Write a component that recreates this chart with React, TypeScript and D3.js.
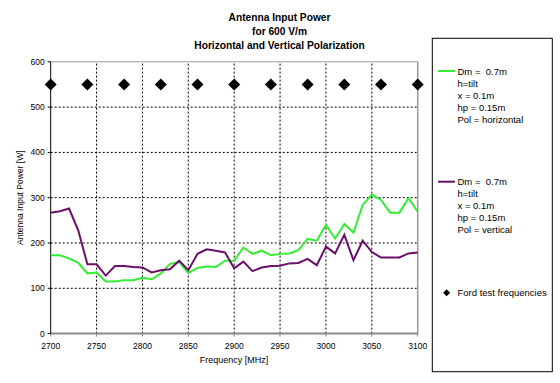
import React from "react";
import * as d3 from "d3";

const freqs = [2700,2710,2720,2730,2740,2750,2760,2770,2780,2790,2800,2810,2820,2830,2840,2850,2860,2870,2880,2890,2900,2910,2920,2930,2940,2950,2960,2970,2980,2990,3000,3010,3020,3030,3040,3050,3060,3070,3080,3090,3100];
const horizontal = [173,173,166,156,133,135,115,115,118,118,123,120,133,154,158,134,145,148,147,161,161,190,176,183,173,176,177,184,209,205,240,210,242,223,284,307,295,267,267,299,269];
const vertical = [267,270,276,228,153,153,128,149,149,147,146,135,140,142,161,140,176,186,183,179,144,159,138,146,149,150,155,156,165,151,192,177,218,162,205,180,168,168,168,177,179];
const fordFreqs = [2700,2740,2780,2820,2860,2900,2940,2980,3020,3060,3100];
const fordLevel = 550;
const xTicks = [2700,2750,2800,2850,2900,2950,3000,3050,3100];
const yTicks = [0,100,200,300,400,500,600];
const legendLines1 = ["Dm =  0.7m","h=tilt","x = 0.1m","hp = 0.15m","Pol = horizontal"];
const legendLines2 = ["Dm =  0.7m","h=tilt","x = 0.1m","hp = 0.15m","Pol = vertical"];

const GREEN = "#33ee33";
const PURPLE = "#6b0f6b";

export default function App() {
  const x = d3.scaleLinear().domain([2700, 3100]).range([50.7, 417.7]);
  const y = d3.scaleLinear().domain([0, 600]).range([333.6, 61.8]);
  const line = d3.line<[number, number]>().x(d => x(d[0])).y(d => y(d[1]));
  const hData = freqs.map((f, i) => [f, horizontal[i]] as [number, number]);
  const vData = freqs.map((f, i) => [f, vertical[i]] as [number, number]);
  const diamond = (cx: number, cy: number, r: number) => `M${cx},${cy - r}L${cx + r},${cy}L${cx},${cy + r}L${cx - r},${cy}Z`;
  const font = "Liberation Sans, Arial, sans-serif";
  return (
    <svg width={560} height={383} style={{ position: "absolute", left: 0, top: 0 }} fontFamily={font}>
      <rect width={560} height={383} fill="#fff" />
      <g fontWeight="bold" fontSize={10.2} textAnchor="middle" fill="#000">
        <text x={279.5} y={21}>Antenna Input Power</text>
        <text x={279.5} y={35}>for 600 V/m</text>
        <text x={279.5} y={49}>Horizontal and Vertical Polarization</text>
      </g>
      {yTicks.filter(t => t > 0 && t < 600).map(t => (
        <line key={"gy" + t} x1={x(2700)} x2={x(3100)} y1={y(t)} y2={y(t)} stroke="#000" strokeWidth={1} strokeDasharray="2,2" />
      ))}
      {xTicks.filter(t => t > 2700 && t < 3100).map(t => (
        <line key={"gx" + t} x1={x(t)} x2={x(t)} y1={y(0)} y2={y(600)} stroke="#000" strokeWidth={1} strokeDasharray="2,2" />
      ))}
      <line x1={x(2700)} x2={x(3100)} y1={y(600)} y2={y(600)} stroke="#999" strokeWidth={1} />
      <line x1={x(3100)} x2={x(3100)} y1={y(600)} y2={y(0)} stroke="#999" strokeWidth={1.5} />
      <line x1={x(2700)} x2={x(3100)} y1={y(0)} y2={y(0)} stroke="#888" strokeWidth={2} />
      <line x1={x(2700)} x2={x(2700)} y1={y(600)} y2={y(0)} stroke="#000" strokeWidth={1} />
      {yTicks.map(t => (
        <g key={"yt" + t}>
          <line x1={x(2700) - 3} x2={x(2700)} y1={y(t)} y2={y(t)} stroke="#000" />
          <text x={x(2700) - 6} y={y(t) + 3} fontSize={8.5} textAnchor="end">{t}</text>
        </g>
      ))}
      {xTicks.map(t => (
        <g key={"xt" + t}>
          <line x1={x(t)} x2={x(t)} y1={y(0)} y2={y(0) + 3} stroke="#888" />
          <text x={x(t)} y={y(0) + 15} fontSize={8.5} textAnchor="middle">{t}</text>
        </g>
      ))}
      <text x={234} y={363} fontSize={9} textAnchor="middle">Frequency [MHz]</text>
      <text transform={`translate(23,${y(300)}) rotate(-90)`} fontSize={8.5} textAnchor="middle">Antenna Input Power [W]</text>
      <path d={line(hData) || ""} fill="none" stroke={GREEN} strokeWidth={2} />
      <path d={line(vData) || ""} fill="none" stroke={PURPLE} strokeWidth={2} />
      {fordFreqs.map(f => (
        <path key={"d" + f} d={diamond(x(f), y(fordLevel), 6)} fill="#000" />
      ))}
      <rect x={432.3} y={38.3} width={120} height={333.4} fill="#fff" stroke="#000" strokeWidth={1} />
      <line x1={438} x2={455} y1={71} y2={71} stroke={GREEN} strokeWidth={2} />
      {legendLines1.map((s, i) => (
        <text key={"l1" + i} x={457.5} y={74.5 + i * 12} fontSize={9.5} style={{ whiteSpace: "pre" }}>{s}</text>
      ))}
      <line x1={438} x2={455} y1={181.7} y2={181.7} stroke={PURPLE} strokeWidth={2} />
      {legendLines2.map((s, i) => (
        <text key={"l2" + i} x={457.5} y={185.2 + i * 12} fontSize={9.5} style={{ whiteSpace: "pre" }}>{s}</text>
      ))}
      <path d={diamond(446.7, 292.7, 3.5)} fill="#000" />
      <text x={457.5} y={296.2} fontSize={9.5}>Ford test frequencies</text>
    </svg>
  );
}
